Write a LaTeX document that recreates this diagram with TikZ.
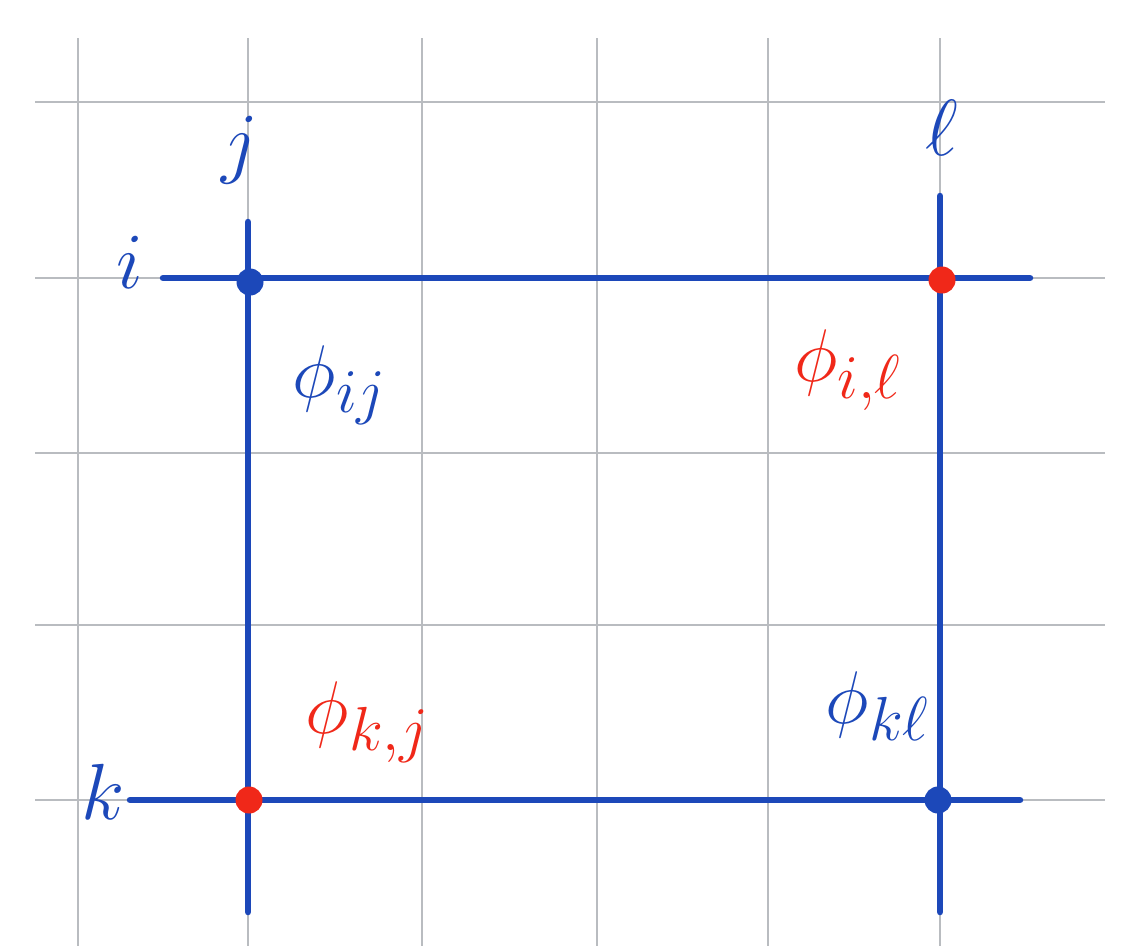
\documentclass[tikz,border=0pt]{standalone}
\usepackage{xcolor}
\definecolor{penblue}{RGB}{28,72,185}
\definecolor{penred}{RGB}{240,40,25}
\definecolor{gridgray}{RGB}{185,188,192}
\begin{document}
\begin{tikzpicture}[x=1pt,y=-1pt,
  gridline/.style={draw=gridgray,line width=2pt},
  penline/.style={draw=penblue,line width=6.5pt,line cap=round},
  bdot/.style={circle,fill=penblue,inner sep=0pt,minimum size=27pt},
  rdot/.style={circle,fill=penred,inner sep=0pt,minimum size=27pt},
  idx/.style={text=penblue,font=\Huge,scale=3.2,inner sep=0pt},
  blab/.style={text=penblue,font=\Huge,scale=3.0,inner sep=0pt},
  rlab/.style={text=penred,font=\Huge,scale=3.0,inner sep=0pt}]
\fill[white] (0,0) rectangle (1131,946);
\useasboundingbox (0,0) rectangle (1131,946);
% paper grid
\foreach \x in {78,248,422,597,768,940} \draw[gridline] (\x,38) -- (\x,946);
\foreach \y in {102,278,453,625,800} \draw[gridline] (35,\y) -- (1105,\y);
% line end coordinates
\coordinate (iL) at (163,278);
\coordinate (iR) at (1030,278);
\coordinate (kL) at (130,800);
\coordinate (kR) at (1020,800);
\coordinate (jT) at (248,222);
\coordinate (jB) at (248,912);
\coordinate (lT) at (940,196);
\coordinate (lB) at (940,912);
% pen lines
\draw[penline] (iL) -- (iR);
\draw[penline] (kL) -- (kR);
\draw[penline] (jT) -- (jB);
\draw[penline] (lT) -- (lB);
% dots
\node[bdot] (pij) at (250,282) {};
\node[rdot] (pil) at (942,280) {};
\node[rdot] (pkj) at (249,800) {};
\node[bdot] (pkl) at (938,800) {};
% index labels
\node[idx] (ti) at (130,262) {$i$};
\node[idx] (tj) at (240,150) {$j$};
\node[idx] (tl) at (942,128) {$\ell$};
\node[idx] (tk) at (103,792) {$k$};
% value labels
\node[blab] (vij) at (340,385) {$\phi_{ij}$};
\node[rlab] (vil) at (848,370) {$\phi_{i,\ell}$};
\node[rlab] (vkj) at (368,722) {$\phi_{k,j}$};
\node[blab] (vkl) at (878,706) {$\phi_{k\ell}$};
\end{tikzpicture}
\end{document}
